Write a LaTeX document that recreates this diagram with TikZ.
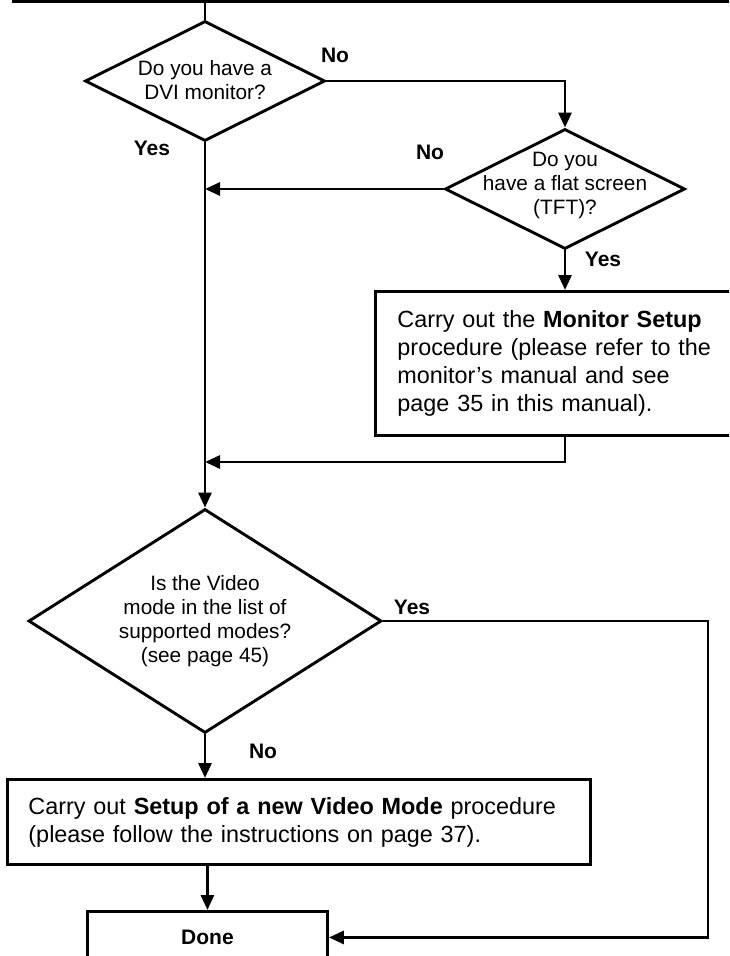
\documentclass[tikz,border=0pt]{standalone}
\usepackage{fontspec}
\setmainfont{Liberation Sans}
\usetikzlibrary{shapes.geometric,arrows.meta}
\begin{document}
\begin{tikzpicture}[x=1pt,y=-1pt,
  ln/.style={line width=2.9pt},
  arr/.style={ln,-{Triangle[length=15pt,width=13pt]}},
  dia/.style={draw,ln,shape=diamond,inner sep=0pt},
  box/.style={draw,ln,rectangle,inner ysep=0pt},
  dtext/.style={font=\fontsize{20.8}{24}\selectfont,align=center},
  btext/.style={font=\fontsize{23.4}{28}\selectfont,align=left},
  lab/.style={font=\bfseries\fontsize{21}{24}\selectfont}]
\path[use as bounding box] (0,0) rectangle (729,956);
\clip (0,0) rectangle (729,956);
% top box (cut off)
\node[box,anchor=south west,minimum width=760pt,minimum height=80pt] (top) at (12,3) {};
% decisions
\node[dia,minimum width=240pt,minimum height=120pt,
  label={[dtext,yshift=1pt]center:Do you have a\\DVI monitor?}] (d1) at (205,81) {};
\node[dia,minimum width=240pt,minimum height=120pt,
  label={[dtext,yshift=4pt]center:Do you\\have a flat screen\\(TFT)?}] (d2) at (565,189) {};
\node[dia,minimum width=353pt,minimum height=224pt,
  label={[dtext]center:Is the Video\\mode in the list of\\supported modes?\\(see page 45)}] (d3) at (205,621) {};
% process boxes
\node[box,btext,anchor=north west,text width=342pt,inner xsep=22pt,minimum height=144pt] (mon) at (374,290)
  {Carry out the \textbf{Monitor Setup}\\procedure (please refer to the\\monitor's manual and see\\page 35 in this manual).};
\node[box,btext,anchor=north west,text width=541pt,inner xsep=21pt,minimum height=85pt] (setup) at (6,778)
  {\mbox{Carry out \textbf{Setup of a new Video Mode} procedure}\\(please follow the instructions on page 37).};
\node[box,lab,anchor=north west,minimum width=240pt,minimum height=52pt] (done) at (86,910) {Done};
% junctions
\coordinate (j1) at (205,189);
\coordinate (j2) at (205,462);
\coordinate (rc) at (708,621);
% connectors
\draw[ln] (d1.north |- top.south) -- (d1.north);
\draw[arr] (d1.east) -| (d2.north);
\draw[arr] (d1.south) -- (d3.north);
\draw[arr] (d2.west) -- (j1);
\draw[arr] (d2.south) -- (d2.south |- mon.north);
\draw[arr] (d2.south |- mon.south) |- (j2);
\draw[arr] (d3.east) -- (rc) |- (done.east);
\draw[arr] (d3.south) -- (d3.south |- setup.north);
\draw[arr] (done.north |- setup.south) -- (done.north);
% branch labels
\node[lab] (n1) at (335,55) {No};
\node[lab] (y1) at (152,148) {Yes};
\node[lab] (n2) at (430,152) {No};
\node[lab] (y2) at (603,259) {Yes};
\node[lab] (y3) at (412,607) {Yes};
\node[lab] (n3) at (263,751) {No};
\end{tikzpicture}
\end{document}
